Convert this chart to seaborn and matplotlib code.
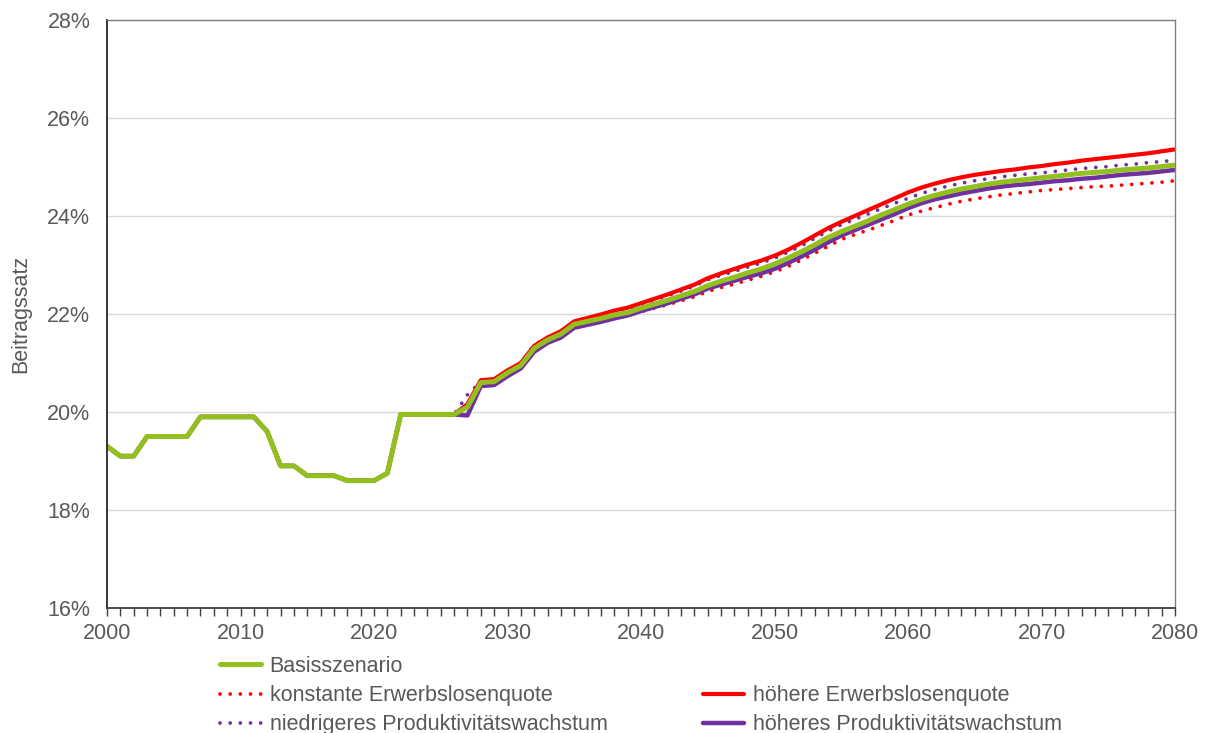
import pandas as pd
import numpy as np
import seaborn as sns
import matplotlib.pyplot as plt
from matplotlib.ticker import MultipleLocator, FuncFormatter
from matplotlib.lines import Line2D

# --- Data: contribution rate in percent ---
hist_years = list(range(2000, 2026))
hist_rate = [19.3, 19.1, 19.1, 19.5, 19.5, 19.5, 19.5, 19.9, 19.9, 19.9,
             19.9, 19.9, 19.6, 18.9, 18.9, 18.7, 18.7, 18.7, 18.6, 18.6,
             18.6, 18.75, 19.95, 19.95, 19.95, 19.95]

proj_years = list(range(2026, 2081))

basis = [19.95, 20.10, 20.60, 20.62, 20.80, 20.95, 21.30, 21.47, 21.59, 21.79,
         21.85, 21.91, 21.98, 22.03, 22.12, 22.20, 22.28, 22.37, 22.46, 22.58,
         22.67, 22.75, 22.84, 22.92, 23.02, 23.14, 23.27, 23.41, 23.56, 23.68,
         23.79, 23.90, 24.02, 24.13, 24.24, 24.34, 24.42, 24.49, 24.55, 24.60,
         24.65, 24.69, 24.72, 24.75, 24.78, 24.81, 24.84, 24.87, 24.89, 24.91,
         24.94, 24.96, 24.98, 25.01, 25.04]

konst_el = [19.95, 20.10, 20.60, 20.61, 20.79, 20.93, 21.28, 21.44, 21.56, 21.75,
            21.80, 21.86, 21.92, 21.97, 22.05, 22.12, 22.19, 22.27, 22.35, 22.46,
            22.54, 22.61, 22.69, 22.77, 22.86, 22.97, 23.10, 23.24, 23.38, 23.52,
            23.62, 23.71, 23.81, 23.91, 24.02, 24.10, 24.17, 24.24, 24.30, 24.35,
            24.39, 24.43, 24.46, 24.49, 24.52, 24.54, 24.56, 24.58, 24.60, 24.61,
            24.63, 24.65, 24.67, 24.69, 24.72]

hoeher_el = [19.95, 20.16, 20.65, 20.67, 20.85, 21.00, 21.35, 21.52, 21.65, 21.85,
             21.92, 21.99, 22.07, 22.13, 22.22, 22.31, 22.40, 22.50, 22.60, 22.73,
             22.83, 22.92, 23.01, 23.09, 23.19, 23.31, 23.45, 23.60, 23.75, 23.88,
             24.00, 24.12, 24.24, 24.36, 24.48, 24.58, 24.66, 24.73, 24.79, 24.84,
             24.88, 24.92, 24.95, 24.99, 25.02, 25.06, 25.09, 25.13, 25.16, 25.19,
             25.22, 25.25, 25.28, 25.32, 25.36]

niedr_pw = [19.95, 20.35, 20.62, 20.65, 20.85, 21.00, 21.37, 21.52, 21.64, 21.84,
            21.91, 21.97, 22.05, 22.10, 22.20, 22.28, 22.37, 22.47, 22.57, 22.70,
            22.79, 22.87, 22.96, 23.04, 23.14, 23.26, 23.39, 23.54, 23.69, 23.82,
            23.93, 24.04, 24.15, 24.26, 24.36, 24.46, 24.54, 24.61, 24.67, 24.72,
            24.76, 24.80, 24.83, 24.86, 24.88, 24.91, 24.94, 24.97, 24.99, 25.01,
            25.04, 25.06, 25.09, 25.11, 25.14]

hoeher_pw = [19.95, 19.93, 20.53, 20.55, 20.73, 20.89, 21.23, 21.41, 21.52, 21.72,
             21.78, 21.84, 21.91, 21.97, 22.06, 22.14, 22.22, 22.31, 22.40, 22.52,
             22.60, 22.68, 22.76, 22.83, 22.92, 23.04, 23.17, 23.31, 23.46, 23.60,
             23.71, 23.82, 23.93, 24.04, 24.16, 24.26, 24.34, 24.40, 24.46, 24.51,
             24.56, 24.60, 24.63, 24.65, 24.68, 24.71, 24.73, 24.76, 24.78, 24.81,
             24.84, 24.86, 24.88, 24.91, 24.94]

scenarios = {
    "Basisszenario": basis,
    "konstante Erwerbslosenquote": konst_el,
    "höhere Erwerbslosenquote": hoeher_el,
    "niedrigeres Produktivitätswachstum": niedr_pw,
    "höheres Produktivitätswachstum": hoeher_pw,
}

rows = []
for name, vals in scenarios.items():
    for yr, v in zip(hist_years + proj_years, hist_rate + vals):
        rows.append({"Jahr": yr, "Beitragssatz": v, "Szenario": name})
df = pd.DataFrame(rows)

GREEN = "#92C01F"
RED = "#FF0000"
PURPLE = "#7030A0"
GRAY = "#595959"

dotted = (0, (0.01, 2.7))
styles = {
    "konstante Erwerbslosenquote": dict(color=RED, lw=2.7, ls=dotted),
    "niedrigeres Produktivitätswachstum": dict(color=PURPLE, lw=2.7, ls=dotted),
    "höhere Erwerbslosenquote": dict(color=RED, lw=3.0, ls="-"),
    "höheres Produktivitätswachstum": dict(color=PURPLE, lw=3.2, ls="-"),
    "Basisszenario": dict(color=GREEN, lw=3.6, ls="-"),
}

sns.set_style("white")
plt.rcParams["font.family"] = ["Liberation Sans", "DejaVu Sans"]

fig = plt.figure(figsize=(12.09, 7.33), dpi=100)
ax = fig.add_axes([107 / 1209, 1 - 608 / 733, (1175 - 107) / 1209, (608 - 20) / 733])

handles = {}
for name in ["konstante Erwerbslosenquote", "niedrigeres Produktivitätswachstum",
             "höhere Erwerbslosenquote", "höheres Produktivitätswachstum", "Basisszenario"]:
    st = styles[name]
    sns.lineplot(data=df[df["Szenario"] == name], x="Jahr", y="Beitragssatz",
                 color=st["color"], linewidth=st["lw"], linestyle=st["ls"],
                 dash_capstyle="round", solid_capstyle="butt", ax=ax, legend=False)
    handles[name] = Line2D([], [], color=st["color"], linewidth=st["lw"],
                           linestyle=st["ls"], dash_capstyle="round")

# --- Axes styling ---
ax.set_xlim(2000, 2080)
ax.set_ylim(16, 28)
ax.yaxis.set_major_locator(MultipleLocator(2))
ax.yaxis.set_major_formatter(FuncFormatter(lambda v, p: f"{v:.0f}%"))
ax.xaxis.set_major_locator(MultipleLocator(10))
ax.xaxis.set_minor_locator(MultipleLocator(1))
ax.grid(axis="y", color="#D9D9D9", linewidth=1.0)
ax.set_axisbelow(True)

for side in ["top", "right"]:
    ax.spines[side].set_color("#7F7F7F")
    ax.spines[side].set_linewidth(1.0)
ax.spines["left"].set_color("#262626")
ax.spines["left"].set_linewidth(1.3)
ax.spines["bottom"].set_color("#404040")
ax.spines["bottom"].set_linewidth(1.3)

ax.tick_params(axis="x", which="both", direction="out", length=6, width=1,
               color="#404040", bottom=True, labelsize=15.5, labelcolor=GRAY, pad=5)
ax.tick_params(axis="y", length=0, labelsize=15.5, labelcolor=GRAY, pad=12)

ax.set_xlabel("")
ax.set_ylabel("Beitragssatz", fontsize=15.5, color=GRAY)
ax.yaxis.set_label_coords(-0.071, 0.5)

# --- Legend: two columns, blank slot next to Basisszenario ---
blank = Line2D([], [], linestyle="none")
leg_handles = [handles["Basisszenario"], handles["konstante Erwerbslosenquote"],
               handles["niedrigeres Produktivitätswachstum"], blank,
               handles["höhere Erwerbslosenquote"], handles["höheres Produktivitätswachstum"]]
leg_labels = ["Basisszenario", "konstante Erwerbslosenquote",
              "niedrigeres Produktivitätswachstum", "",
              "höhere Erwerbslosenquote", "höheres Produktivitätswachstum"]
leg = fig.legend(leg_handles, leg_labels, ncol=2, loc="upper left",
                 bbox_to_anchor=(220 / 1209, 1 - 656 / 733), frameon=False,
                 fontsize=15.5, handlelength=1.9, handletextpad=0.4,
                 columnspacing=4.45, labelspacing=0.38, borderaxespad=0,
                 borderpad=0)
for t in leg.get_texts():
    t.set_color(GRAY)

fig.savefig("out.png", dpi=100)
